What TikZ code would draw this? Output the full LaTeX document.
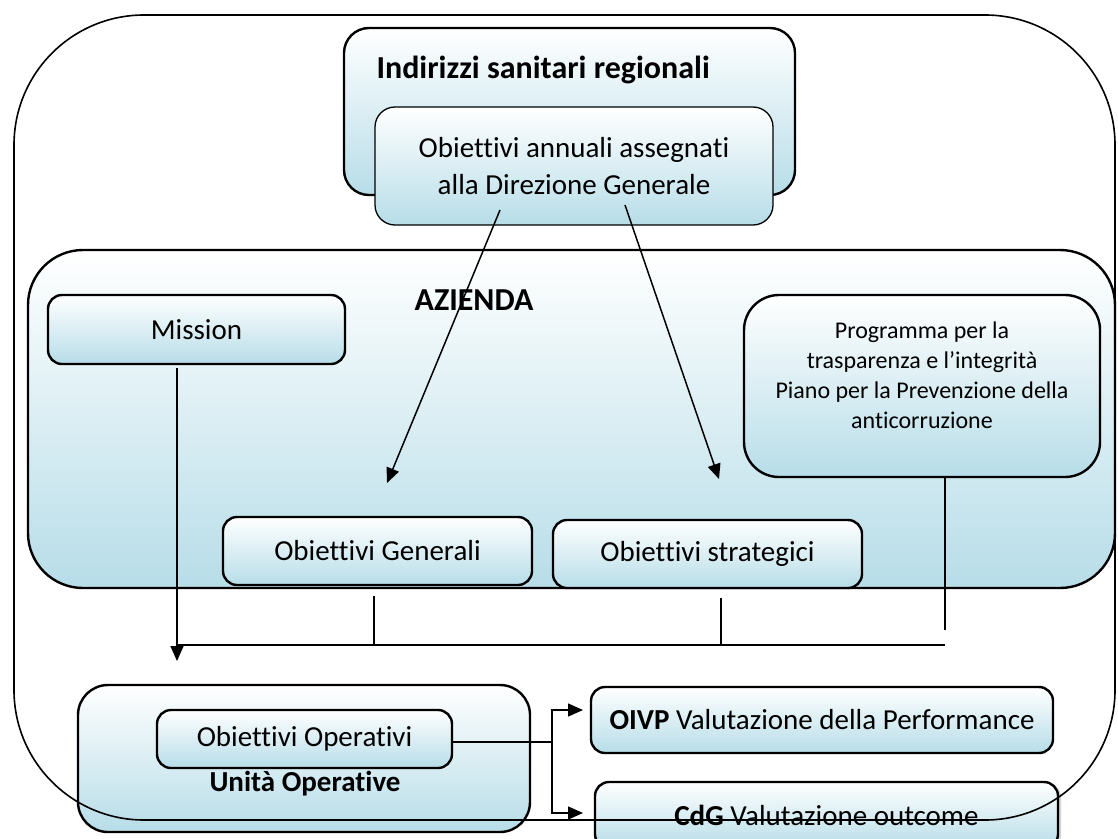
\documentclass[tikz,border=0pt]{standalone}
\usepackage{fontspec}
\setmainfont{Carlito}[Ligatures={NoCommon}]
\usetikzlibrary{arrows.meta, shadows}
\definecolor{shadetop}{HTML}{FFFFFF}
\definecolor{shadebottom}{HTML}{B7DDE8}
\definecolor{darkline}{HTML}{000000}
\tikzset{
  shadedbox/.style={rectangle, draw=darkline, line width=2.4pt, top color=shadetop, bottom color=shadebottom},
  panel/.style={shadedbox, rounded corners=55pt},
  box/.style={shadedbox, rounded corners=14pt, align=center, font=\fontsize{29}{37}\selectfont},
  softbox/.style={box, line width=1.3pt, rounded corners=20pt},
  boldlabel/.style={font=\fontsize{32}{38}\selectfont\bfseries},
  smalltext/.style={align=center, font=\fontsize{24}{30}\selectfont},
  flow/.style={-{Triangle[length=15pt, width=13pt]}, line width=1.5pt, draw=darkline},
  link/.style={line width=1.5pt, draw=darkline}
}

\begin{document}
\begin{tikzpicture}[x=1pt, y=-1pt]
\useasboundingbox (0,0) rectangle (1118,838);
\clip (0,0) rectangle (1118,838);

% regional level
\node[shadedbox, rounded corners=25pt, minimum width=451pt, minimum height=167pt] (regional) at (569.5,111.5) {};
\node[boldlabel, anchor=base west] (regionaltitle) at (373,78) {Indirizzi sanitari regionali};
\node[softbox, minimum width=398pt, minimum height=118pt] (annual) at (574,166) {Obiettivi annuali assegnati\\alla Direzione Generale};

% company level
\node[panel, minimum width=1087pt, minimum height=338pt] (company) at (571.5,419) {};
\node[boldlabel] (companytitle) at (474,300) {AZIENDA};
\node[box, minimum width=297pt, minimum height=69pt] (mission) at (196.5,329.5) {Mission};
\node[box, rounded corners=35pt, minimum width=356pt, minimum height=182pt] (program) at (922,386) {};
\node[smalltext] (programtext) at (922,375) {Programma per la\\trasparenza e l’integrità\\Piano per la Prevenzione della\\anticorruzione};
\node[box, minimum width=309pt, minimum height=68pt] (general) at (377.5,551) {Obiettivi Generali};
\node[box, minimum width=309pt, minimum height=68pt] (strategic) at (707.5,554) {Obiettivi strategici};

% operative level
\node[box, rounded corners=30pt, minimum width=452pt, minimum height=147pt] (units) at (304,758.5) {};
\node[box, minimum width=295pt, minimum height=58pt] (operative) at (304.5,739) {Obiettivi Operativi};
\node[boldlabel, font=\fontsize{29}{35}\selectfont\bfseries, anchor=base] (unitstitle) at (305,791) {Unità Operative};
\node[box, minimum width=462pt, minimum height=66pt] (oivp) at (822,720) {\textbf{OIVP} Valutazione della Performance};
\node[box, drop shadow={shadow xshift=3pt, shadow yshift=-1pt, opacity=0.35}, minimum width=463pt, minimum height=66pt] (cdg) at (826.5,815) {\textbf{CdG} Valutazione outcome};

\coordinate (annualleft) at (500,210);
\coordinate (annualright) at (625,205);
\coordinate (generalin) at (387,483);
\coordinate (strategicin) at (719,479);
\coordinate (missionout) at (177,368);
\coordinate (unitsin) at (177,661);
\coordinate (busleft) at (177,645);
\coordinate (busright) at (945,645);
\coordinate (generalout) at (374,596);
\coordinate (strategicout) at (721,598);
\coordinate (programend) at (945,630);
\coordinate (split) at (552,742);
\coordinate (oivpin) at (583,710);
\coordinate (cdgin) at (583,813);

\draw[flow] (annualleft) -- (generalin);
\draw[flow] (annualright) -- (strategicin);
\draw[flow] (missionout) -- (unitsin);
\draw[link] (busleft) -- (busright);
\draw[link] (generalout) -- (generalout |- busleft);
\draw[link] (strategicout) -- (strategicout |- busleft);
\draw[link] (program.south -| programend) -- (programend);
\draw[link] (operative.east |- split) -- (split);
\draw[flow] (split) |- (oivpin);
\draw[flow] (split) |- (cdgin);

% outer frame on top
\node[draw=darkline, line width=1.6pt, rounded corners=130pt, minimum width=1101pt, minimum height=805pt] (outer) at (564.5,417.5) {};

\end{tikzpicture}
\end{document}
